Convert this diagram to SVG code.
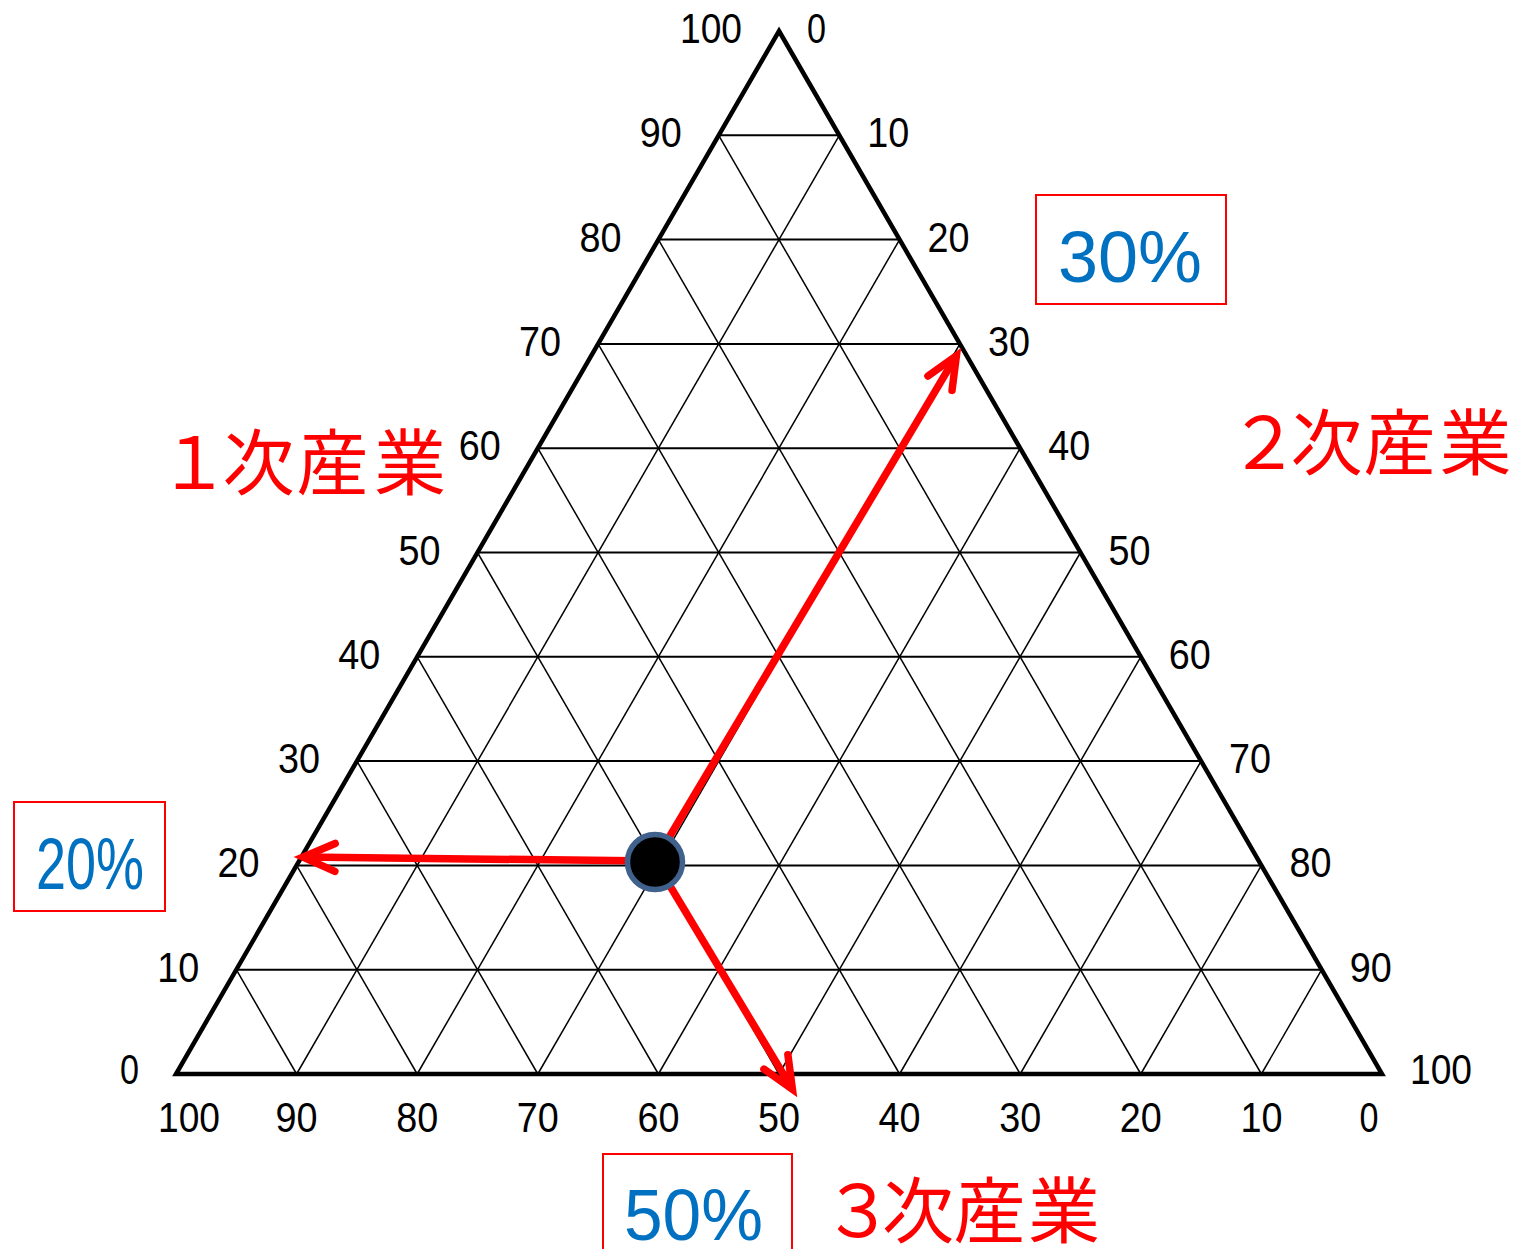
<svg xmlns="http://www.w3.org/2000/svg" width="1515" height="1249" viewBox="0 0 1515 1249">
<style>
.bg{fill:#fff}
.edge{fill:none;stroke:#000;stroke-width:4.5;stroke-linejoin:miter}
.h{stroke:#000;stroke-width:2}
.d{stroke:#000;stroke-width:1.5}
.n{font-family:"Liberation Sans",Arial,sans-serif;font-size:42px;fill:#000}
.ne{text-anchor:end}
.nm{text-anchor:middle}
.pct{font-family:"Liberation Sans",Arial,sans-serif;font-size:72px;fill:#0070C0}
.box{fill:none;stroke:#FF0000;stroke-width:2}
.jp{font-family:"Noto Sans CJK JP","Noto Sans CJK SC",sans-serif;font-size:72px;fill:#FF0000;text-anchor:middle}
.arr{fill:none;stroke:#FF0000;stroke-width:7.5}
</style>
<defs>
<marker id="ah" markerUnits="userSpaceOnUse" viewBox="-45 -25 60 50" markerWidth="60" markerHeight="50" refX="0" refY="0" orient="auto" overflow="visible">
<path d="M-32,-14 L0,0 L-32,14" fill="none" stroke="#FF0000" stroke-width="7.5" stroke-linecap="round" stroke-linejoin="miter"/>
</marker>
</defs>
<rect class="bg" x="0" y="0" width="1515" height="1249"/>

<g id="grid">
<g id="horizontals">
<line class="h" x1="236.3" y1="969.7" x2="1321.7" y2="969.7"/>
<line class="h" x1="296.6" y1="865.4" x2="1261.4" y2="865.4"/>
<line class="h" x1="356.9" y1="761.1" x2="1201.1" y2="761.1"/>
<line class="h" x1="417.2" y1="656.8" x2="1140.8" y2="656.8"/>
<line class="h" x1="477.5" y1="552.5" x2="1080.5" y2="552.5"/>
<line class="h" x1="537.8" y1="448.2" x2="1020.2" y2="448.2"/>
<line class="h" x1="598.1" y1="343.9" x2="959.9" y2="343.9"/>
<line class="h" x1="658.4" y1="239.6" x2="899.6" y2="239.6"/>
<line class="h" x1="718.7" y1="135.3" x2="839.3" y2="135.3"/>
</g>
<g id="diag-left">
<line class="d" x1="296.6" y1="1074" x2="236.3" y2="969.7"/>
<line class="d" x1="417.2" y1="1074" x2="296.6" y2="865.4"/>
<line class="d" x1="537.8" y1="1074" x2="356.9" y2="761.1"/>
<line class="d" x1="658.4" y1="1074" x2="417.2" y2="656.8"/>
<line class="d" x1="779" y1="1074" x2="477.5" y2="552.5"/>
<line class="d" x1="899.6" y1="1074" x2="537.8" y2="448.2"/>
<line class="d" x1="1020.2" y1="1074" x2="598.1" y2="343.9"/>
<line class="d" x1="1140.8" y1="1074" x2="658.4" y2="239.6"/>
<line class="d" x1="1261.4" y1="1074" x2="718.7" y2="135.3"/>
</g>
<g id="diag-right">
<line class="d" x1="296.6" y1="1074" x2="839.3" y2="135.3"/>
<line class="d" x1="417.2" y1="1074" x2="899.6" y2="239.6"/>
<line class="d" x1="537.8" y1="1074" x2="959.9" y2="343.9"/>
<line class="d" x1="658.4" y1="1074" x2="1020.2" y2="448.2"/>
<line class="d" x1="779" y1="1074" x2="1080.5" y2="552.5"/>
<line class="d" x1="899.6" y1="1074" x2="1140.8" y2="656.8"/>
<line class="d" x1="1020.2" y1="1074" x2="1201.1" y2="761.1"/>
<line class="d" x1="1140.8" y1="1074" x2="1261.4" y2="865.4"/>
<line class="d" x1="1261.4" y1="1074" x2="1321.7" y2="969.7"/>
</g>
<polygon id="triangle" class="edge" points="779,31 1382,1074 176,1074"/>
</g>

<g id="left-scale">
<text class="n ne" x="139" y="1084" textLength="19" lengthAdjust="spacingAndGlyphs">0</text>
<text class="n ne" x="199.3" y="981.7" textLength="42" lengthAdjust="spacingAndGlyphs">10</text>
<text class="n ne" x="259.6" y="877.4" textLength="42" lengthAdjust="spacingAndGlyphs">20</text>
<text class="n ne" x="319.9" y="773.1" textLength="42" lengthAdjust="spacingAndGlyphs">30</text>
<text class="n ne" x="380.2" y="668.8" textLength="42" lengthAdjust="spacingAndGlyphs">40</text>
<text class="n ne" x="440.5" y="564.5" textLength="42" lengthAdjust="spacingAndGlyphs">50</text>
<text class="n ne" x="500.8" y="460.2" textLength="42" lengthAdjust="spacingAndGlyphs">60</text>
<text class="n ne" x="561.1" y="355.9" textLength="42" lengthAdjust="spacingAndGlyphs">70</text>
<text class="n ne" x="621.4" y="251.6" textLength="42" lengthAdjust="spacingAndGlyphs">80</text>
<text class="n ne" x="681.7" y="147.3" textLength="42" lengthAdjust="spacingAndGlyphs">90</text>
<text class="n ne" x="742" y="43" textLength="62" lengthAdjust="spacingAndGlyphs">100</text>
</g>

<g id="right-scale">
<text class="n" x="807" y="43" textLength="19" lengthAdjust="spacingAndGlyphs">0</text>
<text class="n" x="867.3" y="147.3" textLength="42" lengthAdjust="spacingAndGlyphs">10</text>
<text class="n" x="927.6" y="251.6" textLength="42" lengthAdjust="spacingAndGlyphs">20</text>
<text class="n" x="987.9" y="355.9" textLength="42" lengthAdjust="spacingAndGlyphs">30</text>
<text class="n" x="1048.2" y="460.2" textLength="42" lengthAdjust="spacingAndGlyphs">40</text>
<text class="n" x="1108.5" y="564.5" textLength="42" lengthAdjust="spacingAndGlyphs">50</text>
<text class="n" x="1168.8" y="668.8" textLength="42" lengthAdjust="spacingAndGlyphs">60</text>
<text class="n" x="1229.1" y="773.1" textLength="42" lengthAdjust="spacingAndGlyphs">70</text>
<text class="n" x="1289.4" y="877.4" textLength="42" lengthAdjust="spacingAndGlyphs">80</text>
<text class="n" x="1349.7" y="981.7" textLength="42" lengthAdjust="spacingAndGlyphs">90</text>
<text class="n" x="1410" y="1084" textLength="62" lengthAdjust="spacingAndGlyphs">100</text>
</g>

<g id="bottom-scale">
<text class="n nm" x="189" y="1132" textLength="62" lengthAdjust="spacingAndGlyphs">100</text>
<text class="n nm" x="296.6" y="1132" textLength="42" lengthAdjust="spacingAndGlyphs">90</text>
<text class="n nm" x="417.2" y="1132" textLength="42" lengthAdjust="spacingAndGlyphs">80</text>
<text class="n nm" x="537.8" y="1132" textLength="42" lengthAdjust="spacingAndGlyphs">70</text>
<text class="n nm" x="658.4" y="1132" textLength="42" lengthAdjust="spacingAndGlyphs">60</text>
<text class="n nm" x="779" y="1132" textLength="42" lengthAdjust="spacingAndGlyphs">50</text>
<text class="n nm" x="899.6" y="1132" textLength="42" lengthAdjust="spacingAndGlyphs">40</text>
<text class="n nm" x="1020.2" y="1132" textLength="42" lengthAdjust="spacingAndGlyphs">30</text>
<text class="n nm" x="1140.8" y="1132" textLength="42" lengthAdjust="spacingAndGlyphs">20</text>
<text class="n nm" x="1261.4" y="1132" textLength="42" lengthAdjust="spacingAndGlyphs">10</text>
<text class="n nm" x="1369" y="1132" textLength="19" lengthAdjust="spacingAndGlyphs">0</text>
</g>

<g id="axis-label-1">
<text class="jp" x="194 258.5 332.5 410" y="489">１次産業</text>
</g>
<g id="axis-label-2">
<text class="jp" x="1264 1326.5 1399.5 1475.5" y="469">２次産業</text>
</g>
<g id="axis-label-3">
<text class="jp" x="858 918 989.5 1064" y="1237">３次産業</text>
</g>

<g id="connectors">
<line class="arr" x1="655" y1="861" x2="303" y2="857.1" marker-end="url(#ah)"/>
<line class="arr" x1="655" y1="861" x2="956.4" y2="355.7" marker-end="url(#ah)"/>
<line class="arr" x1="655" y1="861" x2="792.4" y2="1089.3" marker-end="url(#ah)"/>
</g>

<g id="point">
<circle cx="655" cy="862" r="27.5" fill="#000" stroke="#41618D" stroke-width="5.5"/>
</g>

<g id="value-30">
<rect class="box" x="1036" y="195" width="190" height="109"/>
<text class="pct" x="1058" y="282" textLength="144" lengthAdjust="spacingAndGlyphs">30%</text>
</g>
<g id="value-20">
<rect class="box" x="14" y="802" width="151" height="109"/>
<text class="pct" x="36" y="889" textLength="108" lengthAdjust="spacingAndGlyphs">20%</text>
</g>
<g id="value-50">
<rect class="box" x="603" y="1154" width="189" height="110"/>
<text class="pct" x="624" y="1240" textLength="139" lengthAdjust="spacingAndGlyphs">50%</text>
</g>
</svg>
